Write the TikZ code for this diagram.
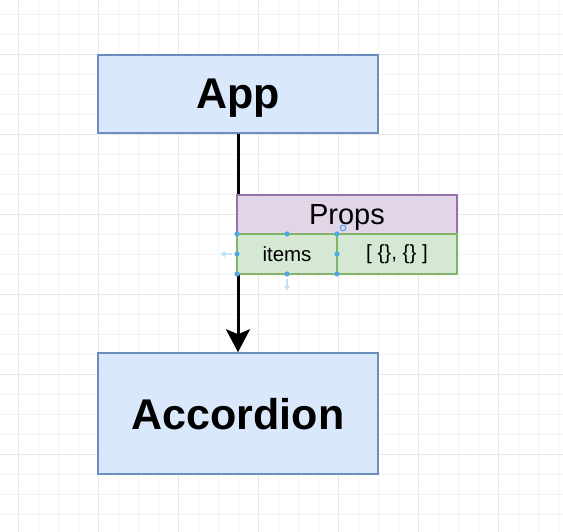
\documentclass[tikz,border=0pt]{standalone}
\usepackage{fontspec}
\setmainfont{Liberation Sans}
\usepackage{tikz}
\usetikzlibrary{positioning,calc,arrows.meta}
\definecolor{boxblue}{HTML}{DAE8FC}
\definecolor{lineblue}{HTML}{6C8EBF}
\definecolor{boxpurple}{HTML}{E1D5E7}
\definecolor{linepurple}{HTML}{9673A6}
\definecolor{boxgreen}{HTML}{D5E8D4}
\definecolor{linegreen}{HTML}{82B366}
\definecolor{handleblue}{HTML}{4FA8E8}
\definecolor{gridminor}{HTML}{F2F2F2}
\definecolor{gridmajor}{HTML}{E8E8E8}
\tikzset{
  compbox/.style={draw=lineblue,fill=boxblue,line width=1.5pt,minimum width=280pt,
    font=\fontsize{43}{48}\selectfont\bfseries,inner sep=0pt,text depth=0pt},
  propshead/.style={draw=linepurple,fill=boxpurple,line width=1.3pt,minimum width=220pt,
    minimum height=39pt,font=\fontsize{29}{32}\selectfont,inner sep=0pt,outer sep=0pt,text depth=0pt},
  propcell/.style={draw=linegreen,fill=boxgreen,line width=1.3pt,minimum height=40pt,
    font=\fontsize{20.5}{24}\selectfont,inner sep=0pt,outer sep=0pt},
  handle/.style={fill=handleblue},
  ghost/.style={draw=handleblue!35,line width=1.5pt,-{Latex[length=5pt,width=7pt]}}
}

\begin{document}
\begin{tikzpicture}[x=1pt,y=-1pt]
  \useasboundingbox (0,0) rectangle (563,532);
  \fill[white] (0,0) rectangle (563,532);
  % canvas grid
  \foreach \gx in {18,38,...,558} \draw[gridminor,line width=0.8pt] (\gx,0) -- (\gx,532);
  \foreach \gy in {14,34,...,530} \draw[gridminor,line width=0.8pt] (0,\gy) -- (563,\gy);
  \foreach \gx in {18,98,...,498} \draw[gridmajor,line width=0.8pt] (\gx,0) -- (\gx,532);
  \foreach \gy in {54,134,...,454} \draw[gridmajor,line width=0.8pt] (0,\gy) -- (563,\gy);

  \node[compbox,minimum height=78pt] (app) at (238,94) {App};
  \node[compbox,minimum height=121pt] (accordion) at (238,413.5) {Accordion};

  \draw[line width=3pt,-{Stealth[length=23pt,width=24pt,inset=5pt]}] (app.south) -- (accordion.north);

  % props table
  \node[propshead] (props) at (347,214.5) {Props};
  \node[propcell,minimum width=100pt,anchor=north west] (items) at (props.south west) {items};
  \node[propcell,minimum width=120pt,anchor=north west] (itemsval) at (items.north east) {[ \{\}, \{\} ]};

  % selection handles
  \foreach \a in {north west,north,north east,east,south east,south,south west,west}
    \fill[handle] (items.\a) circle (2.6);
  \draw[handleblue,line width=1pt] ($(items.north east)+(6,-6)$) circle (2.8);
  \coordinate (lefttip) at ($(items.west)+(-17,0)$);
  \coordinate (downtip) at ($(items.south)+(0,17)$);
  \draw[ghost] ($(items.west)+(-5,0)$) -- (lefttip);
  \draw[ghost] ($(items.south)+(0,5)$) -- (downtip);
\end{tikzpicture}
\end{document}
